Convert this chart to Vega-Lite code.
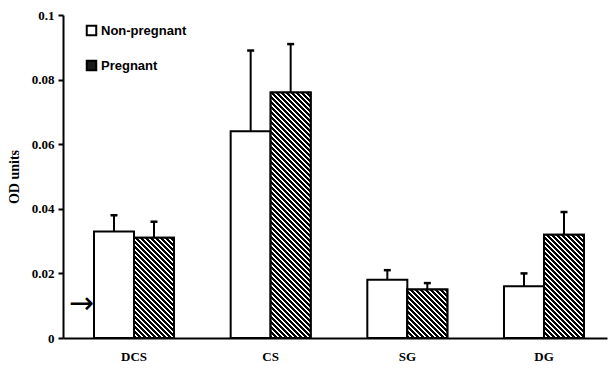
{
  "$schema": "https://vega.github.io/schema/vega-lite/v6.json",
  "autosize": "none",
  "padding": {"left": 63, "top": 15, "right": 1, "bottom": 31},
  "width": 544,
  "height": 323,
  "background": "white",
  "config": {
    "view": {"stroke": null},
    "axis": {"grid": false}
  },
  "params": [
    {"name": "hatch", "value": [
      {"offset":0,"color":"#000"},{"offset":0.006,"color":"#000"},{"offset":0.006,"color":"#fff"},{"offset":0.01,"color":"#fff"},
      {"offset":0.01,"color":"#000"},{"offset":0.016,"color":"#000"},{"offset":0.016,"color":"#fff"},{"offset":0.02,"color":"#fff"},
      {"offset":0.02,"color":"#000"},{"offset":0.026,"color":"#000"},{"offset":0.026,"color":"#fff"},{"offset":0.03,"color":"#fff"},
      {"offset":0.03,"color":"#000"},{"offset":0.036,"color":"#000"},{"offset":0.036,"color":"#fff"},{"offset":0.04,"color":"#fff"},
      {"offset":0.04,"color":"#000"},{"offset":0.046,"color":"#000"},{"offset":0.046,"color":"#fff"},{"offset":0.05,"color":"#fff"},
      {"offset":0.05,"color":"#000"},{"offset":0.056,"color":"#000"},{"offset":0.056,"color":"#fff"},{"offset":0.06,"color":"#fff"},
      {"offset":0.06,"color":"#000"},{"offset":0.066,"color":"#000"},{"offset":0.066,"color":"#fff"},{"offset":0.07,"color":"#fff"},
      {"offset":0.07,"color":"#000"},{"offset":0.076,"color":"#000"},{"offset":0.076,"color":"#fff"},{"offset":0.08,"color":"#fff"},
      {"offset":0.08,"color":"#000"},{"offset":0.086,"color":"#000"},{"offset":0.086,"color":"#fff"},{"offset":0.09,"color":"#fff"},
      {"offset":0.09,"color":"#000"},{"offset":0.096,"color":"#000"},{"offset":0.096,"color":"#fff"},{"offset":0.1,"color":"#fff"},
      {"offset":0.1,"color":"#000"},{"offset":0.106,"color":"#000"},{"offset":0.106,"color":"#fff"},{"offset":0.11,"color":"#fff"},
      {"offset":0.11,"color":"#000"},{"offset":0.116,"color":"#000"},{"offset":0.116,"color":"#fff"},{"offset":0.12,"color":"#fff"},
      {"offset":0.12,"color":"#000"},{"offset":0.126,"color":"#000"},{"offset":0.126,"color":"#fff"},{"offset":0.13,"color":"#fff"},
      {"offset":0.13,"color":"#000"},{"offset":0.136,"color":"#000"},{"offset":0.136,"color":"#fff"},{"offset":0.14,"color":"#fff"},
      {"offset":0.14,"color":"#000"},{"offset":0.146,"color":"#000"},{"offset":0.146,"color":"#fff"},{"offset":0.15,"color":"#fff"},
      {"offset":0.15,"color":"#000"},{"offset":0.156,"color":"#000"},{"offset":0.156,"color":"#fff"},{"offset":0.16,"color":"#fff"},
      {"offset":0.16,"color":"#000"},{"offset":0.166,"color":"#000"},{"offset":0.166,"color":"#fff"},{"offset":0.17,"color":"#fff"},
      {"offset":0.17,"color":"#000"},{"offset":0.176,"color":"#000"},{"offset":0.176,"color":"#fff"},{"offset":0.18,"color":"#fff"},
      {"offset":0.18,"color":"#000"},{"offset":0.186,"color":"#000"},{"offset":0.186,"color":"#fff"},{"offset":0.19,"color":"#fff"},
      {"offset":0.19,"color":"#000"},{"offset":0.196,"color":"#000"},{"offset":0.196,"color":"#fff"},{"offset":0.2,"color":"#fff"},
      {"offset":0.2,"color":"#000"},{"offset":0.206,"color":"#000"},{"offset":0.206,"color":"#fff"},{"offset":0.21,"color":"#fff"},
      {"offset":0.21,"color":"#000"},{"offset":0.216,"color":"#000"},{"offset":0.216,"color":"#fff"},{"offset":0.22,"color":"#fff"},
      {"offset":0.22,"color":"#000"},{"offset":0.226,"color":"#000"},{"offset":0.226,"color":"#fff"},{"offset":0.23,"color":"#fff"},
      {"offset":0.23,"color":"#000"},{"offset":0.236,"color":"#000"},{"offset":0.236,"color":"#fff"},{"offset":0.24,"color":"#fff"},
      {"offset":0.24,"color":"#000"},{"offset":0.246,"color":"#000"},{"offset":0.246,"color":"#fff"},{"offset":0.25,"color":"#fff"},
      {"offset":0.25,"color":"#000"},{"offset":0.256,"color":"#000"},{"offset":0.256,"color":"#fff"},{"offset":0.26,"color":"#fff"},
      {"offset":0.26,"color":"#000"},{"offset":0.266,"color":"#000"},{"offset":0.266,"color":"#fff"},{"offset":0.27,"color":"#fff"},
      {"offset":0.27,"color":"#000"},{"offset":0.276,"color":"#000"},{"offset":0.276,"color":"#fff"},{"offset":0.28,"color":"#fff"},
      {"offset":0.28,"color":"#000"},{"offset":0.286,"color":"#000"},{"offset":0.286,"color":"#fff"},{"offset":0.29,"color":"#fff"},
      {"offset":0.29,"color":"#000"},{"offset":0.296,"color":"#000"},{"offset":0.296,"color":"#fff"},{"offset":0.3,"color":"#fff"},
      {"offset":0.3,"color":"#000"},{"offset":0.306,"color":"#000"},{"offset":0.306,"color":"#fff"},{"offset":0.31,"color":"#fff"},
      {"offset":0.31,"color":"#000"},{"offset":0.316,"color":"#000"},{"offset":0.316,"color":"#fff"},{"offset":0.32,"color":"#fff"},
      {"offset":0.32,"color":"#000"},{"offset":0.326,"color":"#000"},{"offset":0.326,"color":"#fff"},{"offset":0.33,"color":"#fff"},
      {"offset":0.33,"color":"#000"},{"offset":0.336,"color":"#000"},{"offset":0.336,"color":"#fff"},{"offset":0.34,"color":"#fff"},
      {"offset":0.34,"color":"#000"},{"offset":0.346,"color":"#000"},{"offset":0.346,"color":"#fff"},{"offset":0.35,"color":"#fff"},
      {"offset":0.35,"color":"#000"},{"offset":0.356,"color":"#000"},{"offset":0.356,"color":"#fff"},{"offset":0.36,"color":"#fff"},
      {"offset":0.36,"color":"#000"},{"offset":0.366,"color":"#000"},{"offset":0.366,"color":"#fff"},{"offset":0.37,"color":"#fff"},
      {"offset":0.37,"color":"#000"},{"offset":0.376,"color":"#000"},{"offset":0.376,"color":"#fff"},{"offset":0.38,"color":"#fff"},
      {"offset":0.38,"color":"#000"},{"offset":0.386,"color":"#000"},{"offset":0.386,"color":"#fff"},{"offset":0.39,"color":"#fff"},
      {"offset":0.39,"color":"#000"},{"offset":0.396,"color":"#000"},{"offset":0.396,"color":"#fff"},{"offset":0.4,"color":"#fff"},
      {"offset":0.4,"color":"#000"},{"offset":0.406,"color":"#000"},{"offset":0.406,"color":"#fff"},{"offset":0.41,"color":"#fff"},
      {"offset":0.41,"color":"#000"},{"offset":0.416,"color":"#000"},{"offset":0.416,"color":"#fff"},{"offset":0.42,"color":"#fff"},
      {"offset":0.42,"color":"#000"},{"offset":0.426,"color":"#000"},{"offset":0.426,"color":"#fff"},{"offset":0.43,"color":"#fff"},
      {"offset":0.43,"color":"#000"},{"offset":0.436,"color":"#000"},{"offset":0.436,"color":"#fff"},{"offset":0.44,"color":"#fff"},
      {"offset":0.44,"color":"#000"},{"offset":0.446,"color":"#000"},{"offset":0.446,"color":"#fff"},{"offset":0.45,"color":"#fff"},
      {"offset":0.45,"color":"#000"},{"offset":0.456,"color":"#000"},{"offset":0.456,"color":"#fff"},{"offset":0.46,"color":"#fff"},
      {"offset":0.46,"color":"#000"},{"offset":0.466,"color":"#000"},{"offset":0.466,"color":"#fff"},{"offset":0.47,"color":"#fff"},
      {"offset":0.47,"color":"#000"},{"offset":0.476,"color":"#000"},{"offset":0.476,"color":"#fff"},{"offset":0.48,"color":"#fff"},
      {"offset":0.48,"color":"#000"},{"offset":0.486,"color":"#000"},{"offset":0.486,"color":"#fff"},{"offset":0.49,"color":"#fff"},
      {"offset":0.49,"color":"#000"},{"offset":0.496,"color":"#000"},{"offset":0.496,"color":"#fff"},{"offset":0.5,"color":"#fff"},
      {"offset":0.5,"color":"#000"},{"offset":0.506,"color":"#000"},{"offset":0.506,"color":"#fff"},{"offset":0.51,"color":"#fff"},
      {"offset":0.51,"color":"#000"},{"offset":0.516,"color":"#000"},{"offset":0.516,"color":"#fff"},{"offset":0.52,"color":"#fff"},
      {"offset":0.52,"color":"#000"},{"offset":0.526,"color":"#000"},{"offset":0.526,"color":"#fff"},{"offset":0.53,"color":"#fff"},
      {"offset":0.53,"color":"#000"},{"offset":0.536,"color":"#000"},{"offset":0.536,"color":"#fff"},{"offset":0.54,"color":"#fff"},
      {"offset":0.54,"color":"#000"},{"offset":0.546,"color":"#000"},{"offset":0.546,"color":"#fff"},{"offset":0.55,"color":"#fff"},
      {"offset":0.55,"color":"#000"},{"offset":0.556,"color":"#000"},{"offset":0.556,"color":"#fff"},{"offset":0.56,"color":"#fff"},
      {"offset":0.56,"color":"#000"},{"offset":0.566,"color":"#000"},{"offset":0.566,"color":"#fff"},{"offset":0.57,"color":"#fff"},
      {"offset":0.57,"color":"#000"},{"offset":0.576,"color":"#000"},{"offset":0.576,"color":"#fff"},{"offset":0.58,"color":"#fff"}
    ]}
  ],
  "datasets": {
    "od": [
      {"cat": "DCS", "group": "Non-pregnant", "value": 0.033, "upper": 0.038},
      {"cat": "DCS", "group": "Pregnant", "value": 0.031, "upper": 0.036},
      {"cat": "CS", "group": "Non-pregnant", "value": 0.064, "upper": 0.089},
      {"cat": "CS", "group": "Pregnant", "value": 0.076, "upper": 0.091},
      {"cat": "SG", "group": "Non-pregnant", "value": 0.018, "upper": 0.021},
      {"cat": "SG", "group": "Pregnant", "value": 0.015, "upper": 0.017},
      {"cat": "DG", "group": "Non-pregnant", "value": 0.016, "upper": 0.020},
      {"cat": "DG", "group": "Pregnant", "value": 0.032, "upper": 0.039}
    ],
    "arrow": [
      {"cat": "DCS", "group": "Non-pregnant", "level": 0.011, "symbol": "→"}
    ]
  },
  "encoding": {
    "x": {
      "field": "cat", "type": "nominal",
      "scale": {"domain": ["DCS", "CS", "SG", "DG"], "paddingInner": 0.4146, "paddingOuter": 0.1976, "align": 0.574},
      "axis": {
        "title": null, "ticks": false, "labelAngle": 0,
        "domainColor": "#000", "domainWidth": 2,
        "labelFont": "Liberation Serif", "labelFontWeight": "bold", "labelFontSize": 13,
        "labelColor": "#000", "labelPadding": 12
      }
    },
    "xOffset": {
      "field": "group", "type": "nominal",
      "scale": {"domain": ["Non-pregnant", "Pregnant"], "paddingInner": 0, "paddingOuter": 0}
    }
  },
  "layer": [
    {
      "data": {"name": "od"},
      "mark": {"type": "bar", "stroke": "#000", "strokeWidth": 2},
      "encoding": {
        "y": {
          "field": "value", "type": "quantitative",
          "scale": {"domain": [0, 0.1], "nice": false},
          "axis": {
            "values": [0, 0.02, 0.04, 0.06, 0.08, 0.1], "format": ".2~f",
            "title": "OD units", "titleFont": "Liberation Serif", "titleFontWeight": "bold",
            "titleFontSize": 14, "titleColor": "#000", "titlePadding": 10,
            "domainColor": "#000", "domainWidth": 2,
            "tickColor": "#000", "tickWidth": 2, "tickSize": 5,
            "labelFont": "Liberation Serif", "labelFontWeight": "bold", "labelFontSize": 13,
            "labelColor": "#000", "labelPadding": 4
          }
        },
        "fill": {
          "field": "group", "type": "nominal",
          "scale": {"domain": ["Non-pregnant", "Pregnant"], "range": ["#ffffff", "#1a1a1a"]},
          "legend": {
            "title": null, "orient": "none", "legendX": 22, "legendY": 9,
            "padding": 0, "symbolType": "square", "symbolSize": 90,
            "symbolStrokeColor": "#000", "symbolStrokeWidth": 2,
            "labelFont": "Liberation Sans", "labelFontWeight": "bold", "labelFontSize": 13,
            "labelColor": "#000", "labelOffset": 3, "rowPadding": 16
          }
        }
      }
    },
    {
      "data": {"name": "od"},
      "transform": [{"filter": "datum.group === 'Pregnant'"}],
      "mark": {
        "type": "bar", "stroke": "#000", "strokeWidth": 2,
        "fill": {"expr": "{gradient: 'linear', x1: 0, y1: 1, x2: 500*bandwidth('xOffset')/(pow(bandwidth('xOffset'),2)+pow(scale('y',0)-scale('y',datum.value),2)), y2: 1-500*(scale('y',0)-scale('y',datum.value))/(pow(bandwidth('xOffset'),2)+pow(scale('y',0)-scale('y',datum.value),2)), stops: hatch}"}
      },
      "encoding": {
        "y": {"field": "value", "type": "quantitative"}
      }
    },
    {
      "data": {"name": "od"},
      "mark": {"type": "rule", "color": "#000", "strokeWidth": 2},
      "encoding": {
        "y": {"field": "value", "type": "quantitative"},
        "y2": {"field": "upper"}
      }
    },
    {
      "data": {"name": "od"},
      "mark": {"type": "tick", "color": "#000", "size": 7, "thickness": 2.5, "opacity": 1, "orient": "horizontal"},
      "encoding": {
        "y": {"field": "upper", "type": "quantitative"}
      }
    },
    {
      "data": {"name": "arrow"},
      "mark": {"type": "text", "font": "DejaVu Sans", "fontSize": 30, "align": "right", "baseline": "middle", "dx": -20, "dy": 2, "color": "#000"},
      "encoding": {
        "y": {"field": "level", "type": "quantitative"},
        "text": {"field": "symbol"}
      }
    }
  ]
}
